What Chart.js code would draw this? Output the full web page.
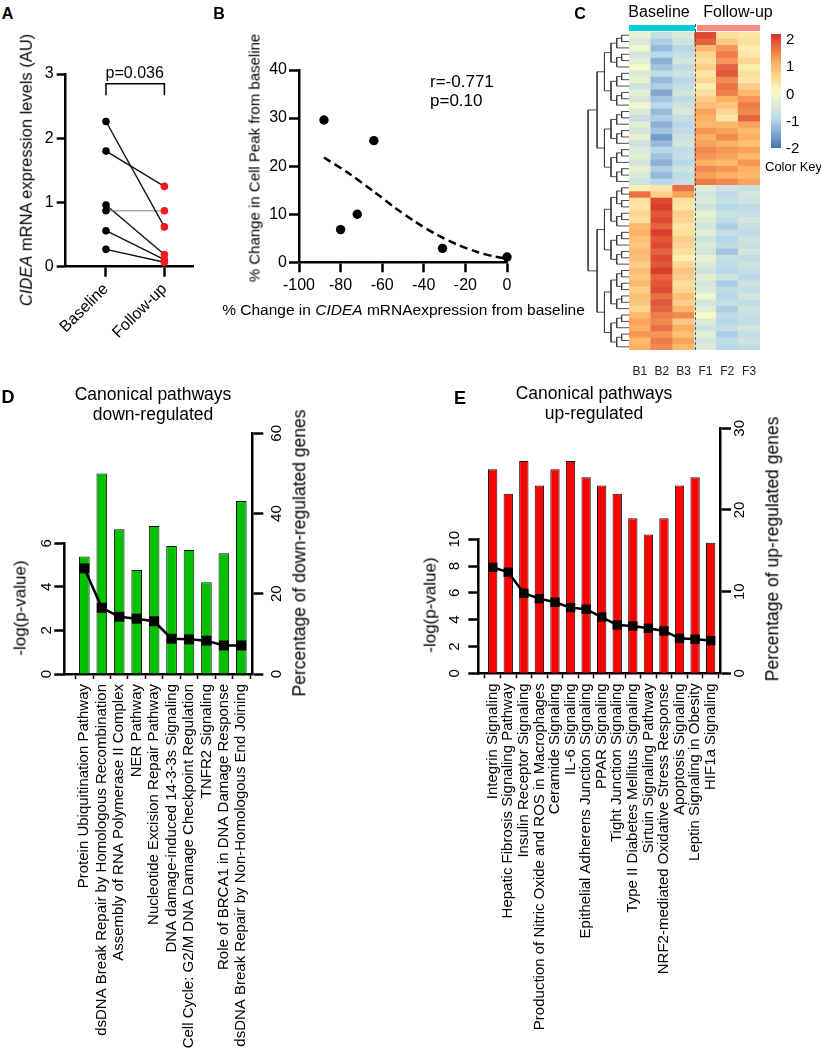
<!DOCTYPE html>
<html>
<head>
<meta charset="utf-8">
<title>CIDEA figure</title>
<script src="https://cdn.jsdelivr.net/npm/chart.js@4.4.1/dist/chart.umd.min.js"></script>
<style>
  html, body { margin: 0; padding: 0; background: #fff; }
  #fig { position: relative; width: 821px; height: 1050px; overflow: hidden;
         font-family: Arial, "Liberation Sans", Helvetica, sans-serif; color: #000; }
  #fig canvas { position: absolute; }
  .t { position: absolute; white-space: nowrap; line-height: 1; transform: translate(-50%, -50%); }
  .t.v { transform: translate(-50%, -50%) rotate(-90deg); }
  .t.l { transform: translate(0, -50%); }
  .t.b { font-weight: bold; }
  .box { position: absolute; }
</style>
</head>
<body>
<div id="fig"></div>
<script>
(() => {
  "use strict";

  // ── Panel A: CIDEA mRNA, paired samples ──────────────────────
  const aCats = ["Baseline", "Follow-up"];
  const aBaseline = [2.26, 1.80, 0.87, 0.96, 0.56, 0.27];
  const aFollowup = [0.62, 1.25, 0.87, 0.19, 0.11, 0.07];
  const aBracket = [2.67, 2.85];

  // ── Panel B: correlation ─────────────────────────────────────
  const bChangeMrna = [-88, -80, -72, -64, -31, 0];
  const bChangePeak = [29.6, 6.8, 10.0, 25.3, 2.9, 1.1];
  const bFitX = [-88, -76, -64, -54, -44, -34, -24, -14, -6, 0];
  const bFitY = [21.8, 18.5, 14.7, 11.4, 8.4, 5.8, 3.7, 2.1, 1.2, 0.8];

  // ── Panel C: heatmap (24 rows up in follow-up, 26 rows down) ──
  const hCols = ["B1", "B2", "B3", "F1", "F2", "F3"];
  const hB1 = [-0.3, -0.5, -0.2, -0.6, -0.4, -0.1, -0.5, -0.3, -0.7, -0.4, -0.6, -0.2, -0.5, -0.8, -0.4, -0.6, -0.3, -0.7, -0.5, -0.4, -0.6, -0.3, -0.5, -0.7,
               0.2, 1.5, 0.4, 0.3, 0.5, 0.4, 0.9, 1.0, 0.8, 0.7, 0.9, 0.8, 0.6, 0.8, 0.7, 0.9, 0.6, 0.8, 0.7, 0.5, 0.9, 1.1, 1.0, 1.2, 0.9, 1.0];
  const hB2 = [-0.8, -1.1, -1.3, -1.0, -1.4, -1.2, -0.9, -1.3, -1.1, -1.5, -1.2, -1.0, -1.3, -1.1, -1.4, -1.2, -1.6, -1.3, -1.0, -1.2, -1.4, -1.1, -1.3, -1.0,
               0.3, 0.6, 1.8, 1.9, 1.7, 1.8, 1.6, 1.9, 1.7, 1.8, 1.6, 1.8, 1.7, 1.9, 1.6, 1.7, 1.8, 1.5, 1.7, 1.6, 1.4, 1.3, 1.5, 1.2, 1.4, 1.3];
  const hB3 = [-0.5, -0.7, -1.0, -0.8, -0.6, -0.9, -0.7, -1.0, -0.8, -0.6, -0.9, -0.7, -0.5, -0.8, -1.0, -0.9, -0.7, -0.6, -0.9, -0.8, -1.0, -0.7, -0.9, -0.8,
               1.5, 1.1, 0.4, 0.3, 0.6, 0.5, 0.3, 0.4, 0.6, 0.5, 0.4, 0.2, 0.5, 0.7, 0.6, 0.4, 0.5, 0.8, 0.6, 0.9, 1.3, 0.7, 1.0, 0.8, 1.1, 0.9];
  const hF1 = [1.8, 1.6, 0.9, 0.5, 0.4, 0.6, 0.3, 0.5, 0.2, 0.4, 0.6, 0.8, 1.1, 1.0, 0.9, 1.2, 1.0, 1.1, 1.3, 1.2, 1.0, 1.3, 1.1, 1.4,
               -0.4, -0.6, -0.5, -0.7, -0.3, -0.5, -0.6, -0.4, -0.7, -0.5, -0.6, -0.3, -0.5, -0.7, -0.4, -0.6, -0.5, -0.2, -0.6, -0.4, -0.1, -0.5, -0.7, -0.4, -0.6, -0.5];
  const hF2 = [0.4, 0.7, 1.2, 1.4, 1.2, 1.6, 1.7, 1.3, 1.5, 1.4, 1.0, 0.7, 0.5, 0.3, 0.9, 1.1, 1.3, 1.0, 1.2, 1.1, 0.9, 1.2, 1.0, 1.3,
               -0.7, -0.9, -0.8, -1.0, -0.7, -0.9, -1.1, -0.8, -1.0, -0.9, -1.2, -0.8, -0.9, -1.0, -0.7, -1.1, -0.9, -1.0, -0.8, -1.1, -0.9, -1.0, -0.8, -1.1, -0.9, -1.0];
  const hF3 = [0.3, 0.4, 0.2, 0.3, 0.5, 0.2, 0.4, 0.3, 0.6, 0.9, 1.2, 1.4, 1.3, 1.6, 1.1, 0.9, 1.0, 0.8, 1.1, 0.9, 1.2, 1.0, 0.9, 1.1,
               -0.8, -0.6, -0.7, -0.9, -0.8, -0.6, -0.8, -0.9, -0.7, -0.8, -0.6, -0.9, -0.7, -0.8, -1.0, -0.7, -0.8, -0.6, -0.9, -0.7, -0.8, -0.9, -0.6, -0.8, -0.7, -0.9];
  const hClusterSizes = [24, 26];
  const dendroHeights = [1.0, 0.78, 0.6, 0.44, 0.3, 0.18, 0.08, 0.03];
  const keyTicks = [2, 1, 0, -1, -2];

  // ── Panel D: down-regulated pathways ─────────────────────────
  const downLabels = [
    "Protein Ubiquitination Pathway",
    "dsDNA Break Repair by Homologous Recombination",
    "Assembly of RNA Polymerase II Complex",
    "NER Pathway",
    "Nucleotide Excision Repair Pathway",
    "DNA damage-induced 14-3-3s Signaling",
    "Cell Cycle: G2/M DNA Damage Checkpoint Regulation",
    "TNFR2 Signaling",
    "Role of BRCA1 in DNA Damage Response",
    "dsDNA Break Repair by Non-Homologous End Joining"
  ];
  const downPct = [29.3, 50.0, 36.1, 25.9, 36.9, 31.9, 30.9, 22.9, 30.1, 43.1];
  const downLogP = [4.85, 3.04, 2.63, 2.54, 2.42, 1.62, 1.59, 1.53, 1.31, 1.31];

  // ── Panel E: up-regulated pathways ───────────────────────────
  const upLabels = [
    "Integrin Signaling",
    "Hepatic Fibrosis Signaling Pathway",
    "Insulin Receptor Signaling",
    "Production of Nitric Oxide and ROS in Macrophages",
    "Ceramide Signaling",
    "IL-6 Signaling",
    "Epithelial Adherens Junction Signaling",
    "PPAR Signaling",
    "Tight Junction Signaling",
    "Type II Diabetes Mellitus Signaling",
    "Sirtuin Signaling Pathway",
    "NRF2-mediated Oxidative Stress Response",
    "Apoptosis Signaling",
    "Leptin Signaling in Obesity",
    "HIF1a Signaling"
  ];
  const upPct = [25, 22, 26, 23, 25, 26, 24, 23, 22, 19, 17, 19, 23, 24, 16];
  const upLogP = [7.91, 7.54, 5.97, 5.57, 5.30, 4.90, 4.78, 4.20, 3.60, 3.53, 3.36, 3.16, 2.61, 2.54, 2.44];

  // ── Design tokens ────────────────────────────────────────────
  const FONT = "Arial, 'Liberation Sans', Helvetica, sans-serif";
  const C = {
    ink: "#000",
    red: "#f21c1c",
    green: "#00c000",
    barRed: "#ff0000",
    cyan: "#00cfd6",
    salmon: "#f98a80",
    dendro: "#3a3a3a"
  };
  const HEAT_STOPS = [
    [-2, [69, 117, 180]],
    [-1, [185, 216, 234]],
    [0, [252, 252, 196]],
    [1, [252, 176, 98]],
    [2, [215, 48, 39]]
  ];

  Chart.defaults.font.family = FONT;
  Chart.defaults.color = C.ink;
  Chart.defaults.animation = false;
  Chart.defaults.responsive = false;
  Chart.defaults.devicePixelRatio = 1;
  Chart.defaults.plugins.legend.display = false;
  Chart.defaults.plugins.tooltip.enabled = false;

  const fig = document.getElementById("fig");
  const AX = { color: C.ink, width: 2.5 };
  const tickGrid = (len, w = 2.5) => ({ drawOnChartArea: false, drawTicks: true, tickLength: len, tickWidth: w, tickColor: C.ink });
  const fixW = (w) => (s) => { s.width = w; };
  const fixH = (h) => (s) => { s.height = h; };

  function canvasAt(left, top, w, h) {
    const c = document.createElement("canvas");
    c.width = w; c.height = h;
    c.style.left = left + "px"; c.style.top = top + "px";
    c.style.width = w + "px"; c.style.height = h + "px";
    fig.appendChild(c);
    return c;
  }

  function text(html, x, y, size, cls = "") {
    const d = document.createElement("div");
    d.className = "t " + cls;
    d.style.left = x + "px";
    d.style.top = y + "px";
    d.style.fontSize = size + "px";
    d.innerHTML = html;
    fig.appendChild(d);
    return d;
  }

  function box(left, top, w, h, css) {
    const d = document.createElement("div");
    d.className = "box";
    Object.assign(d.style, { left: left + "px", top: top + "px", width: w + "px", height: h + "px" }, css);
    fig.appendChild(d);
    return d;
  }

  function heatColor(v) {
    v = Math.max(-2, Math.min(2, v));
    for (let i = 0; i < HEAT_STOPS.length - 1; i++) {
      const [v0, c0] = HEAT_STOPS[i];
      const [v1, c1] = HEAT_STOPS[i + 1];
      if (v <= v1) {
        const t = (v - v0) / (v1 - v0);
        return "rgb(" + c0.map((c, k) => Math.round(c + (c1[k] - c) * t)).join(",") + ")";
      }
    }
    return "rgb(215,48,39)";
  }

  // left axis line that stops at the last tick (Prism-style short axis)
  const partialAxis = {
    id: "partialAxis",
    afterDraw(chart) {
      const s = chart.scales.yL;
      if (!s) return;
      const top = s.getPixelForValue(s.ticks[s.ticks.length - 1].value);
      const bottom = s.getPixelForValue(0);
      const ctx = chart.ctx;
      ctx.save();
      ctx.strokeStyle = C.ink;
      ctx.lineWidth = 2.5;
      ctx.beginPath();
      ctx.moveTo(s.right, bottom + 1.25);
      ctx.lineTo(s.right, top - 1.25);
      ctx.stroke();
      ctx.restore();
    }
  };

  // y tick labels turned 90° (reading upward), placed at a set distance from the axis
  function rotatedTicks(offsets) {
    return {
      id: "rotatedTicks",
      afterDraw(chart) {
        const ctx = chart.ctx;
        Object.keys(offsets).forEach((id) => {
          const s = chart.scales[id];
          const x = s.position === "left" ? s.right - offsets[id] : s.left + offsets[id];
          ctx.save();
          ctx.fillStyle = C.ink;
          ctx.font = "15px " + FONT;
          ctx.textAlign = "center";
          ctx.textBaseline = "middle";
          s.ticks.forEach((t) => {
            ctx.save();
            ctx.translate(x, s.getPixelForValue(t.value));
            ctx.rotate(-Math.PI / 2);
            ctx.fillText(String(t.value), 0, 0);
            ctx.restore();
          });
          ctx.restore();
        });
      }
    };
  }

  /* ── A ───────────────────────────────────────────────────── */
  new Chart(canvasAt(0, 40, 200, 320), {
    type: "scatter",
    data: {
      datasets: [
        { data: aBaseline.map((y) => ({ x: 0, y })), pointRadius: 3.8, pointBackgroundColor: C.ink, pointBorderWidth: 0, order: 0, clip: false },
        { data: aFollowup.map((y) => ({ x: 1, y })), pointRadius: 3.8, pointBackgroundColor: C.red, pointBorderWidth: 0, order: 0, clip: false },
        ...aBaseline.map((b, i) => ({
          type: "line",
          data: [{ x: 0, y: b }, { x: 1, y: aFollowup[i] }],
          borderColor: b === aFollowup[i] ? "#808080" : "#111",
          borderWidth: b === aFollowup[i] ? 1 : 1.4,
          pointRadius: 0,
          order: 1
        })),
        {
          type: "line",
          data: [{ x: 0, y: aBracket[0] }, { x: 0, y: aBracket[1] }, { x: 1, y: aBracket[1] }, { x: 1, y: aBracket[0] }],
          borderColor: C.ink, borderWidth: 1.5, pointRadius: 0, order: 1, clip: false
        }
      ]
    },
    options: {
      layout: { padding: { top: 34, right: 7, left: 0, bottom: 0 } },
      scales: {
        x: {
          type: "linear", min: -0.69, max: 1.49,
          afterBuildTicks: (s) => { s.ticks = [{ value: 0 }, { value: 1 }]; },
          afterFit: fixH(93.3),
          ticks: { minRotation: 45, maxRotation: 45, padding: 3, font: { size: 16 }, callback: (v) => aCats[v] },
          grid: tickGrid(10), border: AX
        },
        y: {
          min: 0, max: 3,
          afterFit: fixW(65.7),
          ticks: { stepSize: 1, padding: 3, font: { size: 16 } },
          grid: tickGrid(9), border: AX
        }
      }
    }
  });
  text("A", 7.5, 13.5, 16, "b");
  text("<i>CIDEA</i> mRNA expression levels (AU)", 26, 169.5, 16.5, "v");
  text("p=0.036", 134.7, 73, 16);

  /* ── B ───────────────────────────────────────────────────── */
  new Chart(canvasAt(200, 40, 330, 300), {
    type: "scatter",
    data: {
      datasets: [
        { data: bChangeMrna.map((x, i) => ({ x, y: bChangePeak[i] })), pointRadius: 4.7, pointBackgroundColor: C.ink, pointBorderWidth: 0, order: 0, clip: false },
        {
          type: "line",
          data: bFitX.map((x, i) => ({ x, y: bFitY[i] })),
          borderColor: C.ink, borderWidth: 2.5, borderDash: [8, 4.5], pointRadius: 0,
          tension: 0.3, order: 1, clip: false
        }
      ]
    },
    options: {
      layout: { padding: { top: 30, right: 23, left: 0, bottom: 0 } },
      scales: {
        x: {
          type: "linear", min: -100, max: 0,
          afterFit: fixH(77.7),
          ticks: { stepSize: 20, padding: 4, font: { size: 16 } },
          grid: tickGrid(10), border: AX
        },
        y: {
          min: 0, max: 40,
          afterFit: fixW(99),
          ticks: { stepSize: 10, padding: 2, font: { size: 16 } },
          grid: tickGrid(10), border: AX
        }
      }
    }
  });
  text("B", 219, 13.5, 16, "b");
  text("% Change in Cell Peak from baseline", 254, 158, 15, "v");
  text("% Change in <i>CIDEA</i> mRNAexpression from baseline", 403.5, 310, 15.5);
  text("r=-0.771", 430, 81, 17, "l");
  text("p=0.10", 430, 100, 17, "l");

  /* ── C ───────────────────────────────────────────────────── */
  const hMatrix = [hB1, hB2, hB3, hF1, hF2, hF3];
  const nRows = hB1.length;
  const heatSets = [];
  for (let r = 0; r < nRows; r++) {
    heatSets.push({
      data: hCols.map(() => 1),
      backgroundColor: hMatrix.map((col) => heatColor(col[r])),
      borderWidth: 0, barPercentage: 1, categoryPercentage: 1, stack: "h"
    });
  }
  new Chart(canvasAt(625, 20, 140, 360), {
    type: "bar",
    data: { labels: hCols, datasets: heatSets },
    options: {
      layout: { padding: { top: 12, left: 4, right: 5, bottom: 0 } },
      scales: {
        x: {
          stacked: true,
          afterFit: fixH(30),
          ticks: { padding: 6, font: { size: 12 }, color: "#222" },
          grid: { display: false }, border: { display: false }
        },
        y: { stacked: true, display: false, min: 0, max: nRows, reverse: true }
      }
    }
  });

  // dendrogram: clusters from hClusterSizes, split in halves inside each cluster
  const dendroSets = [];
  function branch(lo, hi, depth) {
    if (hi - lo === 1) return { pos: lo + 0.5, h: 0 };
    const mid = lo + Math.ceil((hi - lo) / 2);
    const a = branch(lo, mid, depth + 1);
    const b = branch(mid, hi, depth + 1);
    const h = dendroHeights[Math.min(depth, dendroHeights.length - 1)];
    dendroSets.push({
      data: [{ x: a.h, y: a.pos }, { x: h, y: a.pos }, { x: h, y: b.pos }, { x: b.h, y: b.pos }],
      borderColor: C.dendro, borderWidth: 0.9, pointRadius: 0, showLine: true, clip: false
    });
    return { pos: (a.pos + b.pos) / 2, h };
  }
  const topNode = branch(0, hClusterSizes[0], 1);
  const botNode = branch(hClusterSizes[0], nRows, 1);
  dendroSets.push({
    data: [{ x: topNode.h, y: topNode.pos }, { x: dendroHeights[0], y: topNode.pos }, { x: dendroHeights[0], y: botNode.pos }, { x: botNode.h, y: botNode.pos }],
    borderColor: C.dendro, borderWidth: 0.9, pointRadius: 0, showLine: true, clip: false
  });
  new Chart(canvasAt(584, 32, 45, 318), {
    type: "scatter",
    data: { datasets: dendroSets },
    options: {
      layout: { padding: 0 },
      scales: {
        x: { display: false, min: 0, max: 1.1, reverse: true },
        y: { display: false, min: 0, max: nRows, reverse: true }
      }
    }
  });

  box(629, 24.5, 66, 6.5, { background: C.cyan });
  box(697, 24.5, 63, 6.5, { background: C.salmon });
  box(695, 24, 0, 326, { borderLeft: "1.2px dashed #555" });
  box(771, 34, 10, 114, {
    background: "linear-gradient(to bottom, " + keyTicks.map((v) => heatColor(v)).join(", ") + ")"
  });
  keyTicks.forEach((v, i) => text(String(v), 786, 38 + i * 27.3, 15, "l"));
  text("Color Key", 765, 166, 13, "l");
  text("C", 580, 13.5, 16, "b");
  text("Baseline", 659, 12, 16);
  text("Follow-up", 738, 12, 16);

  /* ── D / E: pathway bars + -log(p) line ──────────────────── */
  function pathwayChart(cv, o) {
    return new Chart(cv, {
      type: "bar",
      data: {
        datasets: [
          {
            type: "line", yAxisID: "yL", order: 0,
            data: o.logp.map((y, x) => ({ x, y })),
            borderColor: C.ink, borderWidth: 2.5, tension: 0,
            pointStyle: "rect", pointRadius: o.sq, pointBackgroundColor: C.ink, pointBorderWidth: 0, clip: false
          },
          {
            type: "bar", yAxisID: "yR", order: 1,
            data: o.pct.map((y, x) => ({ x, y })),
            backgroundColor: o.color, borderColor: "#111", borderWidth: 1, borderSkipped: "bottom",
            barPercentage: o.barPct, categoryPercentage: 1
          }
        ]
      },
      options: {
        layout: { padding: { top: o.padTop, left: 0, right: 0, bottom: 0 } },
        scales: {
          x: {
            type: "linear", min: o.xMin, max: o.xMax, offset: false,
            afterBuildTicks: (s) => { s.ticks = o.labels.map((_, i) => ({ value: i })); },
            afterFit: fixH(o.xH),
            ticks: { autoSkip: false, minRotation: 90, maxRotation: 90, padding: 5, font: { size: 15 }, callback: (v) => o.labels[v] },
            grid: tickGrid(5, 1.5), border: AX
          },
          yL: {
            position: "left", min: 0, max: o.lMax,
            afterBuildTicks: (s) => { s.ticks = o.lTicks.map((value) => ({ value })); },
            afterFit: fixW(o.lW),
            ticks: { display: false },
            grid: tickGrid(10), border: { display: false }
          },
          yR: {
            position: "right", min: 0, max: o.rMax,
            afterBuildTicks: (s) => { s.ticks = o.rTicks.map((value) => ({ value })); },
            afterFit: fixW(o.rW),
            ticks: { display: false },
            grid: tickGrid(11), border: AX
          }
        }
      },
      plugins: [partialAxis, rotatedTicks({ yL: o.lOff, yR: o.rOff })]
    });
  }

  pathwayChart(canvasAt(0, 395, 330, 655), {
    labels: downLabels, pct: downPct, logp: downLogP, color: C.green,
    padTop: 38.3, xH: 376, xMin: -1.15, xMax: 9.63, barPct: 0.61, sq: 7,
    lMax: 11.05, lTicks: [0, 2, 4, 6], lW: 64.3, lOff: 17,
    rMax: 60, rTicks: [0, 20, 40, 60], rW: 77.7, rOff: 24.4
  });
  text("D", 8, 397, 18, "b");
  text("Canonical pathways", 153, 395, 17.5);
  text("down-regulated", 153, 415, 17.5);
  text("-log(p-value)", 20, 608, 17, "v");
  text("Percentage of down-regulated genes", 300, 553, 17.5, "v");

  pathwayChart(canvasAt(400, 395, 400, 655), {
    labels: upLabels, pct: upPct, logp: upLogP, color: C.barRed,
    padTop: 33.3, xH: 376.7, xMin: -0.925, xMax: 14.6, barPct: 0.6, sq: 6.6,
    lMax: 18.28, lTicks: [0, 2, 4, 6, 8, 10], lW: 78.3, lOff: 23.3,
    rMax: 30, rTicks: [0, 10, 20, 30], rW: 80, rOff: 20
  });
  text("E", 460, 398, 18, "b");
  text("Canonical pathways", 594, 394, 17.5);
  text("up-regulated", 594, 414, 17.5);
  text("-log(p-value)", 430, 605, 17, "v");
  text("Percentage of up-regulated genes", 773, 549, 17.5, "v");
})();
</script>
</body>
</html>
